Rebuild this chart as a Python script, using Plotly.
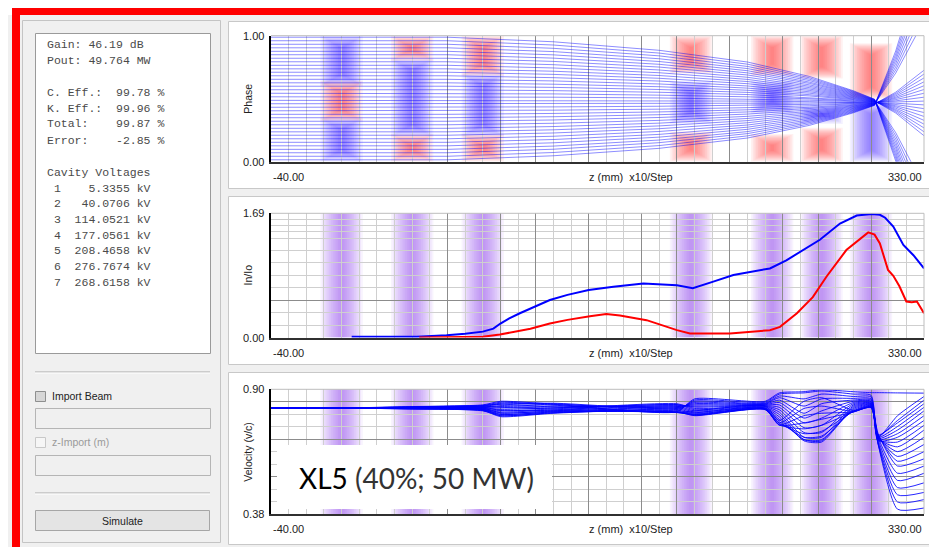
import plotly.graph_objects as go

W, H = 937, 547
OFF = 8  # browser body margin
FW, FH = W - OFF, H - OFF

# ---------------- data ----------------
z_range = [-40, 330]
cavity_z = [0, 40, 80, 198, 244, 272, 300]
grid_major_z = [60, 90, 110, 140, 170, 190, 220, 250, 270, 300]
grid_minor_z = [-40, -30, -20, -10, 0, 10, 20, 30, 40, 50, 60, 70, 80, 90, 100, 110, 120, 130, 140,
                150, 160, 170, 180, 190, 200, 210, 220, 230, 240, 250, 260, 270, 280, 290, 300, 310, 320, 330]

# phase-plot field colouring per cavity: (low, high, sign)
phase_band_segments = [
    [(0.60, 1.00, "b"), (0.32, 0.64, "r"), (0.00, 0.35, "b")],
    [(0.80, 1.00, "r"), (0.20, 0.82, "b"), (0.00, 0.22, "r")],
    [(0.68, 1.00, "r"), (0.20, 0.70, "b"), (0.00, 0.22, "r")],
    [(0.70, 1.00, "r"), (0.30, 0.64, "b"), (0.00, 0.24, "r")],
    [(0.68, 1.00, "r"), (0.38, 0.64, "b"), (0.00, 0.22, "r")],
    [(0.66, 1.00, "r"), (0.30, 0.44, "b"), (0.00, 0.27, "r")],
    [(0.50, 0.94, "r"), (0.00, 0.47, "b")],
]

phase_z = [-40, 60, 120, 180, 230, 265, 290, 302, 314, 330]
phase_rows = [
    [0.015, 0.015, 0.047, 0.106, 0.188, 0.288, 0.388, 0.447, 0.880, 1.608],
    [0.043, 0.043, 0.073, 0.128, 0.205, 0.299, 0.393, 0.449, 0.854, 1.538],
    [0.071, 0.071, 0.099, 0.151, 0.223, 0.310, 0.398, 0.450, 0.829, 1.468],
    [0.098, 0.098, 0.124, 0.172, 0.239, 0.321, 0.403, 0.451, 0.805, 1.400],
    [0.126, 0.126, 0.150, 0.195, 0.257, 0.332, 0.408, 0.453, 0.780, 1.330],
    [0.154, 0.154, 0.176, 0.217, 0.274, 0.344, 0.413, 0.454, 0.754, 1.260],
    [0.182, 0.182, 0.202, 0.240, 0.291, 0.355, 0.418, 0.456, 0.729, 1.190],
    [0.210, 0.210, 0.228, 0.262, 0.309, 0.366, 0.423, 0.457, 0.704, 1.120],
    [0.237, 0.237, 0.253, 0.284, 0.326, 0.377, 0.428, 0.458, 0.552, 0.726],
    [0.265, 0.265, 0.279, 0.306, 0.343, 0.388, 0.433, 0.460, 0.542, 0.696],
    [0.293, 0.293, 0.305, 0.328, 0.360, 0.399, 0.438, 0.461, 0.532, 0.665],
    [0.321, 0.321, 0.331, 0.351, 0.378, 0.410, 0.443, 0.463, 0.522, 0.634],
    [0.349, 0.349, 0.357, 0.373, 0.395, 0.422, 0.448, 0.464, 0.512, 0.603],
    [0.376, 0.376, 0.383, 0.395, 0.412, 0.432, 0.453, 0.465, 0.503, 0.573],
    [0.404, 0.404, 0.409, 0.417, 0.429, 0.444, 0.458, 0.467, 0.493, 0.543],
    [0.432, 0.432, 0.435, 0.440, 0.446, 0.455, 0.463, 0.468, 0.483, 0.512],
    [0.460, 0.460, 0.461, 0.462, 0.464, 0.466, 0.468, 0.470, 0.474, 0.481],
    [0.487, 0.487, 0.486, 0.484, 0.481, 0.477, 0.473, 0.471, 0.464, 0.451],
    [0.515, 0.515, 0.512, 0.506, 0.498, 0.488, 0.478, 0.472, 0.454, 0.421],
    [0.543, 0.543, 0.538, 0.528, 0.515, 0.499, 0.483, 0.474, 0.444, 0.390],
    [0.571, 0.571, 0.564, 0.551, 0.533, 0.510, 0.488, 0.475, 0.435, 0.359],
    [0.599, 0.599, 0.590, 0.573, 0.550, 0.522, 0.493, 0.476, 0.425, 0.328],
    [0.626, 0.626, 0.615, 0.595, 0.567, 0.532, 0.498, 0.478, 0.415, 0.298],
    [0.654, 0.654, 0.641, 0.617, 0.584, 0.544, 0.503, 0.479, 0.406, 0.268],
    [0.682, 0.682, 0.667, 0.640, 0.601, 0.555, 0.508, 0.481, 0.396, 0.237],
    [0.710, 0.710, 0.693, 0.662, 0.619, 0.566, 0.513, 0.482, 0.386, 0.206],
    [0.737, 0.737, 0.718, 0.684, 0.636, 0.577, 0.518, 0.483, 0.230, -0.198],
    [0.765, 0.765, 0.744, 0.706, 0.653, 0.588, 0.523, 0.485, 0.205, -0.268],
    [0.793, 0.793, 0.770, 0.728, 0.670, 0.599, 0.528, 0.486, 0.179, -0.338],
    [0.821, 0.821, 0.796, 0.751, 0.688, 0.610, 0.533, 0.488, 0.154, -0.408],
    [0.849, 0.849, 0.822, 0.773, 0.705, 0.622, 0.538, 0.489, 0.129, -0.478],
    [0.876, 0.876, 0.848, 0.795, 0.722, 0.632, 0.543, 0.490, 0.105, -0.545],
    [0.904, 0.904, 0.874, 0.817, 0.739, 0.644, 0.548, 0.492, 0.079, -0.615],
    [0.932, 0.932, 0.900, 0.840, 0.756, 0.655, 0.553, 0.493, 0.054, -0.685],
    [0.960, 0.960, 0.926, 0.862, 0.774, 0.666, 0.558, 0.495, 0.029, -0.755],
    [0.988, 0.988, 0.952, 0.884, 0.791, 0.677, 0.563, 0.496, 0.004, -0.825],
]

current_blue_z = [5.7, 42.5, 59.5, 70, 80, 86, 90, 95, 101, 110, 118, 128, 140, 154, 171, 190, 199,
                  210.6, 222, 242.7, 252, 271, 282.4, 291.9, 300.4, 305, 308, 312.6, 316, 318.3, 324, 330]
current_blue = [0.01, 0.01, 0.03, 0.05, 0.08, 0.12, 0.19, 0.26, 0.33, 0.43, 0.51, 0.58, 0.645, 0.69, 0.736,
                0.71, 0.67, 0.76, 0.85, 0.94, 1.05, 1.33, 1.55, 1.66, 1.68, 1.67, 1.63, 1.51, 1.36, 1.26, 1.12, 0.94]
current_red_z = [44, 80, 89.7, 100, 107, 118, 128, 140.7, 150, 157.7, 172.8, 190, 197.4, 220, 242.7, 248.4,
                 258, 267, 274.8, 286, 298.4, 302, 305, 309.6, 312.6, 316, 320, 323, 326, 330]
current_red = [0.0, 0.01, 0.04, 0.09, 0.12, 0.19, 0.24, 0.29, 0.32, 0.30, 0.236, 0.10, 0.055, 0.055, 0.10,
               0.145, 0.33, 0.55, 0.83, 1.19, 1.43, 1.40, 1.28, 0.92, 0.84, 0.70, 0.49, 0.48, 0.49, 0.33]

vel_z = [-40, 0, 40, 80, 90, 120, 190, 200, 240, 248, 262, 272, 290, 300, 304, 315, 330]
vel_rows = [
    [0.822, 0.822, 0.828, 0.835, 0.850, 0.838, 0.806, 0.860, 0.850, 0.885, 0.890, 0.898, 0.890, 0.886, 0.886, 0.885, 0.884],
    [0.822, 0.822, 0.826, 0.832, 0.846, 0.834, 0.810, 0.855, 0.846, 0.880, 0.885, 0.893, 0.880, 0.875, 0.700, 0.790, 0.870],
    [0.822, 0.822, 0.825, 0.830, 0.842, 0.840, 0.815, 0.850, 0.842, 0.872, 0.860, 0.880, 0.870, 0.868, 0.705, 0.770, 0.855],
    [0.822, 0.822, 0.824, 0.828, 0.838, 0.842, 0.820, 0.845, 0.840, 0.865, 0.830, 0.860, 0.862, 0.860, 0.710, 0.760, 0.840],
    [0.822, 0.822, 0.823, 0.826, 0.832, 0.836, 0.824, 0.840, 0.838, 0.855, 0.800, 0.840, 0.855, 0.855, 0.700, 0.745, 0.825],
    [0.822, 0.822, 0.822, 0.824, 0.828, 0.830, 0.828, 0.835, 0.836, 0.845, 0.780, 0.810, 0.850, 0.850, 0.695, 0.730, 0.810],
    [0.822, 0.822, 0.821, 0.822, 0.822, 0.826, 0.832, 0.830, 0.834, 0.835, 0.760, 0.780, 0.845, 0.848, 0.690, 0.715, 0.790],
    [0.822, 0.822, 0.820, 0.820, 0.816, 0.822, 0.836, 0.826, 0.832, 0.825, 0.740, 0.750, 0.840, 0.845, 0.685, 0.700, 0.770],
    [0.822, 0.822, 0.819, 0.818, 0.810, 0.818, 0.840, 0.820, 0.830, 0.815, 0.720, 0.720, 0.835, 0.842, 0.690, 0.680, 0.750],
    [0.822, 0.822, 0.818, 0.816, 0.805, 0.814, 0.836, 0.815, 0.828, 0.805, 0.700, 0.700, 0.830, 0.840, 0.695, 0.660, 0.730],
    [0.822, 0.822, 0.818, 0.814, 0.800, 0.810, 0.830, 0.810, 0.825, 0.795, 0.690, 0.685, 0.825, 0.838, 0.700, 0.640, 0.700],
    [0.822, 0.822, 0.819, 0.812, 0.795, 0.806, 0.825, 0.805, 0.822, 0.785, 0.685, 0.680, 0.820, 0.836, 0.705, 0.620, 0.670],
    [0.822, 0.822, 0.820, 0.810, 0.790, 0.802, 0.820, 0.800, 0.820, 0.775, 0.690, 0.690, 0.815, 0.834, 0.710, 0.600, 0.640],
    [0.822, 0.822, 0.821, 0.812, 0.786, 0.800, 0.815, 0.795, 0.818, 0.765, 0.700, 0.705, 0.810, 0.832, 0.715, 0.580, 0.610],
    [0.822, 0.822, 0.822, 0.815, 0.790, 0.802, 0.810, 0.792, 0.816, 0.758, 0.715, 0.725, 0.808, 0.830, 0.700, 0.550, 0.580],
    [0.822, 0.822, 0.823, 0.818, 0.795, 0.805, 0.806, 0.790, 0.815, 0.752, 0.735, 0.750, 0.806, 0.828, 0.690, 0.520, 0.550],
    [0.822, 0.822, 0.824, 0.822, 0.802, 0.808, 0.804, 0.792, 0.816, 0.750, 0.760, 0.775, 0.805, 0.826, 0.680, 0.490, 0.510],
    [0.822, 0.822, 0.825, 0.826, 0.812, 0.812, 0.803, 0.796, 0.818, 0.752, 0.790, 0.800, 0.806, 0.825, 0.675, 0.460, 0.470],
    [0.822, 0.822, 0.826, 0.830, 0.825, 0.818, 0.803, 0.802, 0.822, 0.760, 0.820, 0.830, 0.808, 0.824, 0.672, 0.430, 0.440],
    [0.822, 0.822, 0.827, 0.833, 0.838, 0.826, 0.804, 0.810, 0.830, 0.770, 0.850, 0.865, 0.812, 0.823, 0.670, 0.400, 0.405],
]

gain_db = 46.19
pout_mw = 49.764
c_eff = 99.78
k_eff = 99.96
total_eff = 99.87
error_pct = -2.85
cavity_voltage_kv = [5.3355, 40.0706, 114.0521, 177.0561, 208.4658, 276.7674, 268.6158]

panel_names = ["Phase", "In/Io", "Velocity (v/c)"]
y_ranges = [[0.0, 1.0], [0.0, 1.69], [0.38, 0.90]]
y_top_labels = ["1.00", "1.69", "0.90"]
y_bot_labels = ["0.00", "0.00", "0.38"]
x_left_label = "-40.00"
x_right_label = "330.00"
x_title = "z (mm)  x10/Step"
current_y_major = [0.507]
current_y_minor = [0.169, 0.338, 0.676, 0.845, 1.014, 1.183, 1.352, 1.437, 1.521, 1.606]
vel_y_major = [0.848, 0.692, 0.536]
vel_y_minor = [0.796, 0.744, 0.64, 0.588, 0.484, 0.432]
overlay_title = "XL5"
overlay_sub = "(40%; 50 MW)"

# ---------------- helpers ----------------
NB = "\u00a0"


def px(x):
    return (x - OFF) / FW


def py(y):
    return 1 - (y - OFF) / FH


shapes = []
annotations = []


def rect(x0, y0, x1, y1, fill=None, line=None, lw=1, layer="below"):
    shapes.append(dict(type="rect", xref="paper", yref="paper",
                       x0=px(x0), x1=px(x1), y0=py(y1), y1=py(y0),
                       fillcolor=fill if fill else "rgba(0,0,0,0)",
                       line=dict(color=line if line else "rgba(0,0,0,0)", width=lw if line else 0),
                       layer=layer))


def hline(x0, x1, y, color, lw=1, layer="below"):
    shapes.append(dict(type="line", xref="paper", yref="paper",
                       x0=px(x0), x1=px(x1), y0=py(y), y1=py(y),
                       line=dict(color=color, width=lw), layer=layer))


def vline(x, y0, y1, color, lw=1, layer="below"):
    shapes.append(dict(type="line", xref="paper", yref="paper",
                       x0=px(x), x1=px(x), y0=py(y0), y1=py(y1),
                       line=dict(color=color, width=lw), layer=layer))


def text(x, y, s, size=11, color="#222222", family="Liberation Sans", xanchor="left", angle=0):
    annotations.append(dict(x=px(x), y=py(y), xref="paper", yref="paper", text=s.replace(" ", NB),
                            showarrow=False, xanchor=xanchor, yanchor="middle", textangle=angle,
                            font=dict(size=size, color=color, family=family)))


# ---------------- GUI chrome ----------------
rect(0, 15, W + 5, H + 5, fill="#f0f0f0")
rect(12, 8, W + 5, 15, fill="#ff0000")
rect(12, 8, 20, H + 5, fill="#ff0000")

# left group
rect(22.5, 20.5, 220.5, 542.5, line="#c4c4c4")
rect(35.5, 33.5, 210.5, 353.5, fill="#ffffff", line="#9a9a9a")
hline(35, 210, 372, "#a8a8a8")
hline(35, 210, 373, "#ffffff")
rect(35.5, 391.5, 45.5, 401.5, fill="#d6d6d6", line="#8e8f8f")
text(50, 396, "Import Beam", size=10.5, color="#222222")
rect(35.5, 408.5, 210.5, 428.5, fill="#f0f0f0", line="#b5b5b5")
rect(35.5, 437.5, 45.5, 447.5, fill="#f6f6f6", line="#c8c8c8")
text(50, 442, "z-Import (m)", size=10.5, color="#9a9a9a")
rect(35.5, 455.5, 210.5, 475.5, fill="#f0f0f0", line="#b5b5b5")
hline(35, 210, 493, "#a8a8a8")
hline(35, 210, 494, "#ffffff")
rect(35.5, 510.5, 209.5, 530.5, fill="#e4e4e4", line="#a6a6a6")
text(122, 520.5, "Simulate", size=10.5, color="#222222", xanchor="center")

# summary text
summary = [
    (44, f"Gain: {gain_db:.2f} dB"),
    (60, f"Pout: {pout_mw:.3f} MW"),
    (92, f"C. Eff.:  {c_eff:.2f} %"),
    (108, f"K. Eff.:  {k_eff:.2f} %"),
    (124, f"Total:    {total_eff:.2f} %"),
    (140, f"Error:    {error_pct:.2f} %"),
    (172, "Cavity Voltages"),
]
for i, v in enumerate(cavity_voltage_kv):
    summary.append((188 + 15.7 * i, f" {i + 1}  {v:8.4f} kV"))
for yy, s in summary:
    text(44.5, yy, s, size=11.5, color="#4a4a4a", family="Liberation Mono")

# ---------------- plot panels ----------------
panel_frames = [(21, 188), (196, 364), (372, 544)]
plot_px = [(35.7, 161.7), (213.3, 337.5), (389.3, 514)]
X0, X1 = 271, 924

for (f0, f1) in panel_frames:
    rect(228.5, f0 + 0.5, W + 5, f1 + 0.5, fill="#ffffff", line="#c8c8c8")

fig = go.Figure()

layout_axes = {}
for i in range(3):
    xa = "xaxis" if i == 0 else f"xaxis{i + 1}"
    ya = "yaxis" if i == 0 else f"yaxis{i + 1}"
    t, b = plot_px[i]
    layout_axes[xa] = dict(domain=[px(X0), px(X1)], range=z_range, anchor="y" if i == 0 else f"y{i + 1}",
                           tickvals=grid_major_z, showticklabels=False, ticks="", showgrid=True,
                           gridcolor="#8c8c8c", gridwidth=1, zeroline=False,
                           minor=dict(tickvals=grid_minor_z, showgrid=True, gridcolor="#cfcfcf", gridwidth=1, ticks=""),
                           showline=True, linecolor="#303030", linewidth=2, fixedrange=True)
    ymaj = [] if i == 0 else (current_y_major if i == 1 else vel_y_major)
    ymin = [] if i == 0 else (current_y_minor if i == 1 else vel_y_minor)
    layout_axes[ya] = dict(domain=[py(b), py(t)], range=y_ranges[i], anchor="x" if i == 0 else f"x{i + 1}",
                           tickvals=ymaj, showticklabels=False, ticks="", showgrid=i > 0,
                           gridcolor="#8c8c8c", gridwidth=1, zeroline=False,
                           minor=dict(tickvals=ymin, showgrid=i > 0, gridcolor="#cfcfcf", gridwidth=1, ticks=""),
                           showline=True, linecolor="#000000", linewidth=2, fixedrange=True)
    # frame top / right
    hline(X0, X1, t, "#bdbdbd", layer="above")
    vline(X1, t, b, "#bdbdbd", layer="above")
    # labels
    text(X0 - 5, t, y_top_labels[i], size=11, xanchor="right")
    text(X0 - 5, b, y_bot_labels[i], size=11, xanchor="right")
    text(X0, b + 15, x_left_label, size=11)
    text(X1, b + 15, x_right_label, size=11, xanchor="right")
    text(587, b + 15, x_title, size=11)
    text(248, (t + b) / 2, panel_names[i], size=10.5, xanchor="center", angle=-90)

# cavity bands (soft gradient built from stacked translucent rectangles)
n_layers = 12
layers = [(12 - 11 * j / (n_layers - 1), 0.066, 0.09 * j / (n_layers - 1)) for j in range(n_layers)]
col = {"r": "rgb(255,50,50)", "b": "rgb(70,50,255)"}
for zc, segs in zip(cavity_z, phase_band_segments):
    for lo, hi, s in segs:
        for w, a, ins in layers:
            ins2 = min(ins, (hi - lo) / 2.6)
            shapes.append(dict(type="rect", xref="x", yref="y", x0=zc - w, x1=zc + w,
                               y0=lo + ins2, y1=hi - ins2, fillcolor=col[s], opacity=a,
                               line=dict(width=0), layer="below"))
for k, yr in ((2, y_ranges[1]), (3, y_ranges[2])):
    for zc in cavity_z:
        for w, a, ins in layers:
            shapes.append(dict(type="rect", xref=f"x{k}", yref=f"y{k}", x0=zc - w, x1=zc + w,
                               y0=yr[0], y1=yr[1], fillcolor="rgb(150,80,235)", opacity=a,
                               line=dict(width=0), layer="below"))

# phase trajectories
for row in phase_rows:
    fig.add_trace(go.Scatter(x=phase_z, y=row, mode="lines", xaxis="x", yaxis="y",
                             line=dict(color="rgba(0,0,255,0.45)", width=1), hoverinfo="skip", showlegend=False))

# current
fig.add_trace(go.Scatter(x=current_blue_z, y=current_blue, mode="lines", xaxis="x2", yaxis="y2",
                         line=dict(color="#0000ff", width=2), showlegend=False))
fig.add_trace(go.Scatter(x=current_red_z, y=current_red, mode="lines", xaxis="x2", yaxis="y2",
                         line=dict(color="#ff0000", width=2), showlegend=False))

# velocity
for row in vel_rows:
    fig.add_trace(go.Scatter(x=vel_z, y=row, mode="lines", xaxis="x3", yaxis="y3",
                             line=dict(color="rgba(0,0,255,0.85)", width=1, shape="spline", smoothing=0.6),
                             hoverinfo="skip", showlegend=False))

# overlay label box
rect(277, 445, 552, 509, fill="#ffffff", layer="above")
annotations.append(dict(x=px(297), y=py(478), xref="paper", yref="paper", showarrow=False,
                        xanchor="left", yanchor="middle",
                        text=f"<span style='color:#000000'>{overlay_title}</span>{NB}{overlay_sub.replace(' ', NB)}",
                        font=dict(size=28, color="#333333", family="Lato")))

fig.update_layout(width=FW, height=FH, autosize=False, margin=dict(l=0, r=0, t=0, b=0),
                  paper_bgcolor="#ffffff", plot_bgcolor="#ffffff", showlegend=False,
                  shapes=shapes, annotations=annotations, **layout_axes)

fig.write_html("out.html")
